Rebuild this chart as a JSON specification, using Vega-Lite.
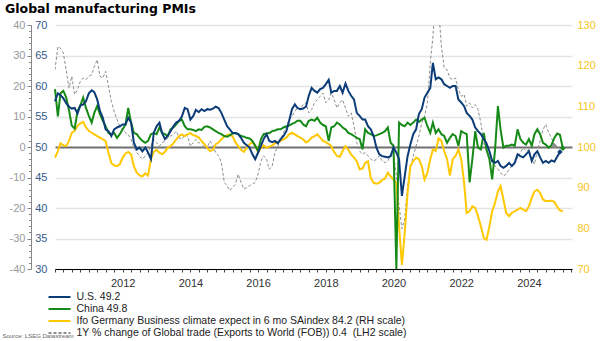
{
  "$schema": "https://vega.github.io/schema/vega-lite/v6.json",
  "width": 517,
  "height": 244,
  "autosize": "none",
  "padding": {"left": 55, "top": 25, "right": 30, "bottom": 72},
  "background": "white",
  "config": {
    "font": "Liberation Sans",
    "view": {"stroke": null}
  },
  "title": {"text": "Global manufacturing PMIs", "anchor": "start", "frame": "group", "dx": -50, "offset": 4, "font": "DejaVu Sans", "fontSize": 12.5, "fontWeight": "bold", "color": "#000"},
  "data": {"values": [
{"d":"2010-01-01","us":57.5,"cn":59.5,"ifo":97.4,"tr":25.3},
{"d":"2010-02-01","us":58.8,"cn":55.0,"ifo":99.0,"tr":32.9},
{"d":"2010-03-01","us":58.5,"cn":58.8,"ifo":100.9,"tr":32.4},
{"d":"2010-04-01","us":58.0,"cn":59.2,"ifo":100.4,"tr":30.8},
{"d":"2010-05-01","us":57.2,"cn":58.2,"ifo":100.2,"tr":25.3},
{"d":"2010-06-01","us":56.6,"cn":56.0,"ifo":101.5,"tr":19.3},
{"d":"2010-07-01","us":56.3,"cn":53.5,"ifo":103.5,"tr":23.2},
{"d":"2010-08-01","us":56.4,"cn":53.0,"ifo":104.0,"tr":17.2},
{"d":"2010-09-01","us":55.5,"cn":55.9,"ifo":105.2,"tr":18.8},
{"d":"2010-10-01","us":56.8,"cn":56.8,"ifo":105.8,"tr":21.5},
{"d":"2010-11-01","us":57.0,"cn":58.1,"ifo":106.2,"tr":22.6},
{"d":"2010-12-01","us":57.5,"cn":56.4,"ifo":104.8,"tr":22.1},
{"d":"2011-01-01","us":58.8,"cn":55.1,"ifo":104.0,"tr":23.2},
{"d":"2011-02-01","us":59.3,"cn":54.0,"ifo":103.5,"tr":23.7},
{"d":"2011-03-01","us":59.0,"cn":55.6,"ifo":103.1,"tr":26.4},
{"d":"2011-04-01","us":57.8,"cn":56.7,"ifo":102.7,"tr":28.6},
{"d":"2011-05-01","us":55.9,"cn":55.4,"ifo":102.3,"tr":23.2},
{"d":"2011-06-01","us":54.8,"cn":54.3,"ifo":101.9,"tr":22.6},
{"d":"2011-07-01","us":52.9,"cn":53.4,"ifo":101.5,"tr":24.8},
{"d":"2011-08-01","us":52.6,"cn":52.3,"ifo":98.6,"tr":19.9},
{"d":"2011-09-01","us":51.8,"cn":52.1,"ifo":96.0,"tr":15.0},
{"d":"2011-10-01","us":52.9,"cn":52.3,"ifo":95.5,"tr":11.7},
{"d":"2011-11-01","us":53.2,"cn":51.5,"ifo":95.3,"tr":9.0},
{"d":"2011-12-01","us":53.4,"cn":52.1,"ifo":95.7,"tr":6.8},
{"d":"2012-01-01","us":53.7,"cn":52.9,"ifo":97.4,"tr":5.8},
{"d":"2012-02-01","us":53.7,"cn":53.7,"ifo":98.4,"tr":4.7},
{"d":"2012-03-01","us":54.8,"cn":56.4,"ifo":98.8,"tr":4.1},
{"d":"2012-04-01","us":54.0,"cn":54.0,"ifo":98.2,"tr":2.5},
{"d":"2012-05-01","us":50.7,"cn":52.3,"ifo":95.3,"tr":-0.2},
{"d":"2012-06-01","us":49.6,"cn":52.1,"ifo":93.7,"tr":-1.8},
{"d":"2012-07-01","us":49.9,"cn":51.5,"ifo":93.0,"tr":-2.9},
{"d":"2012-08-01","us":49.3,"cn":51.0,"ifo":92.8,"tr":-4.0},
{"d":"2012-09-01","us":49.9,"cn":50.7,"ifo":93.5,"tr":-2.9},
{"d":"2012-10-01","us":49.1,"cn":51.0,"ifo":93.0,"tr":-1.8},
{"d":"2012-11-01","us":48.0,"cn":52.1,"ifo":97.0,"tr":0.3},
{"d":"2012-12-01","us":52.3,"cn":52.3,"ifo":98.8,"tr":2.5},
{"d":"2013-01-01","us":53.4,"cn":52.1,"ifo":99.3,"tr":1.4},
{"d":"2013-02-01","us":54.0,"cn":53.2,"ifo":98.6,"tr":0.3},
{"d":"2013-03-01","us":52.3,"cn":52.3,"ifo":98.2,"tr":1.4},
{"d":"2013-04-01","us":51.3,"cn":52.1,"ifo":98.8,"tr":2.0},
{"d":"2013-05-01","us":51.8,"cn":51.8,"ifo":99.8,"tr":3.0},
{"d":"2013-06-01","us":52.6,"cn":52.9,"ifo":100.2,"tr":3.6},
{"d":"2013-07-01","us":53.4,"cn":53.2,"ifo":100.9,"tr":4.1},
{"d":"2013-08-01","us":54.0,"cn":53.7,"ifo":101.9,"tr":5.2},
{"d":"2013-09-01","us":54.3,"cn":54.3,"ifo":102.7,"tr":3.0},
{"d":"2013-10-01","us":55.0,"cn":54.5,"ifo":103.1,"tr":2.5},
{"d":"2013-11-01","us":56.4,"cn":53.4,"ifo":102.7,"tr":4.1},
{"d":"2013-12-01","us":56.2,"cn":52.9,"ifo":103.1,"tr":3.6},
{"d":"2014-01-01","us":54.5,"cn":52.9,"ifo":103.4,"tr":0.3},
{"d":"2014-02-01","us":55.1,"cn":52.8,"ifo":102.9,"tr":1.4},
{"d":"2014-03-01","us":56.1,"cn":52.6,"ifo":102.7,"tr":2.5},
{"d":"2014-04-01","us":55.7,"cn":52.9,"ifo":102.3,"tr":1.2},
{"d":"2014-05-01","us":56.2,"cn":52.8,"ifo":101.5,"tr":2.0},
{"d":"2014-06-01","us":55.9,"cn":53.3,"ifo":100.7,"tr":-0.8},
{"d":"2014-07-01","us":56.2,"cn":53.4,"ifo":99.8,"tr":-0.2},
{"d":"2014-08-01","us":56.1,"cn":53.2,"ifo":99.0,"tr":2.0},
{"d":"2014-09-01","us":56.3,"cn":52.9,"ifo":99.3,"tr":0.5},
{"d":"2014-10-01","us":56.6,"cn":52.6,"ifo":100.7,"tr":-1.8},
{"d":"2014-11-01","us":56.4,"cn":52.3,"ifo":101.1,"tr":-2.9},
{"d":"2014-12-01","us":55.6,"cn":52.1,"ifo":101.9,"tr":-5.1},
{"d":"2015-01-01","us":54.5,"cn":51.8,"ifo":102.6,"tr":-11.6},
{"d":"2015-02-01","us":53.4,"cn":51.7,"ifo":102.9,"tr":-12.7},
{"d":"2015-03-01","us":52.9,"cn":51.9,"ifo":103.1,"tr":-14.3},
{"d":"2015-04-01","us":52.3,"cn":52.2,"ifo":102.6,"tr":-13.3},
{"d":"2015-05-01","us":52.3,"cn":52.3,"ifo":101.2,"tr":-12.2},
{"d":"2015-06-01","us":52.1,"cn":52.1,"ifo":100.2,"tr":-8.9},
{"d":"2015-07-01","us":51.5,"cn":51.8,"ifo":99.3,"tr":-11.6},
{"d":"2015-08-01","us":50.7,"cn":51.7,"ifo":98.8,"tr":-13.8},
{"d":"2015-09-01","us":50.3,"cn":51.5,"ifo":99.8,"tr":-13.3},
{"d":"2015-10-01","us":49.9,"cn":51.4,"ifo":100.7,"tr":-12.7},
{"d":"2015-11-01","us":48.8,"cn":51.0,"ifo":101.2,"tr":-12.2},
{"d":"2015-12-01","us":48.0,"cn":50.2,"ifo":100.4,"tr":-11.6},
{"d":"2016-01-01","us":49.1,"cn":49.3,"ifo":98.8,"tr":-8.9},
{"d":"2016-02-01","us":50.2,"cn":51.3,"ifo":99.8,"tr":-4.6},
{"d":"2016-03-01","us":51.3,"cn":52.1,"ifo":100.4,"tr":-2.9},
{"d":"2016-04-01","us":52.1,"cn":52.2,"ifo":99.8,"tr":-4.0},
{"d":"2016-05-01","us":51.0,"cn":52.3,"ifo":100.1,"tr":-7.3},
{"d":"2016-06-01","us":50.8,"cn":52.6,"ifo":100.4,"tr":-6.2},
{"d":"2016-07-01","us":51.0,"cn":52.7,"ifo":100.9,"tr":-1.8},
{"d":"2016-08-01","us":50.6,"cn":52.9,"ifo":101.2,"tr":0.3},
{"d":"2016-09-01","us":51.3,"cn":52.9,"ifo":101.5,"tr":2.5},
{"d":"2016-10-01","us":51.8,"cn":53.2,"ifo":101.9,"tr":4.7},
{"d":"2016-11-01","us":52.6,"cn":53.4,"ifo":102.3,"tr":6.8},
{"d":"2016-12-01","us":54.3,"cn":53.5,"ifo":103.1,"tr":9.0},
{"d":"2017-01-01","us":56.2,"cn":53.8,"ifo":103.5,"tr":10.1},
{"d":"2017-02-01","us":57.0,"cn":54.0,"ifo":103.1,"tr":11.7},
{"d":"2017-03-01","us":56.4,"cn":54.3,"ifo":102.7,"tr":12.8},
{"d":"2017-04-01","us":56.2,"cn":54.3,"ifo":102.3,"tr":12.3},
{"d":"2017-05-01","us":56.3,"cn":53.7,"ifo":101.9,"tr":13.9},
{"d":"2017-06-01","us":56.6,"cn":53.4,"ifo":101.1,"tr":14.5},
{"d":"2017-07-01","us":58.4,"cn":54.3,"ifo":101.5,"tr":11.2},
{"d":"2017-08-01","us":59.7,"cn":54.5,"ifo":102.3,"tr":12.3},
{"d":"2017-09-01","us":59.2,"cn":54.3,"ifo":102.7,"tr":14.5},
{"d":"2017-10-01","us":58.9,"cn":54.8,"ifo":103.1,"tr":15.5},
{"d":"2017-11-01","us":59.5,"cn":54.0,"ifo":102.3,"tr":16.6},
{"d":"2017-12-01","us":59.7,"cn":53.6,"ifo":101.5,"tr":17.7},
{"d":"2018-01-01","us":60.3,"cn":53.4,"ifo":101.2,"tr":14.5},
{"d":"2018-02-01","us":61.0,"cn":51.0,"ifo":100.7,"tr":15.5},
{"d":"2018-03-01","us":58.9,"cn":53.2,"ifo":100.2,"tr":17.7},
{"d":"2018-04-01","us":59.2,"cn":53.4,"ifo":98.8,"tr":15.5},
{"d":"2018-05-01","us":59.2,"cn":54.0,"ifo":97.8,"tr":12.8},
{"d":"2018-06-01","us":60.0,"cn":53.7,"ifo":97.6,"tr":14.5},
{"d":"2018-07-01","us":58.9,"cn":53.2,"ifo":99.0,"tr":15.5},
{"d":"2018-08-01","us":60.4,"cn":52.9,"ifo":100.2,"tr":12.8},
{"d":"2018-09-01","us":59.2,"cn":52.3,"ifo":99.3,"tr":10.1},
{"d":"2018-10-01","us":58.4,"cn":52.1,"ifo":98.2,"tr":11.2},
{"d":"2018-11-01","us":57.8,"cn":51.8,"ifo":97.4,"tr":6.8},
{"d":"2018-12-01","us":55.6,"cn":51.5,"ifo":96.5,"tr":1.4},
{"d":"2019-01-01","us":55.1,"cn":51.3,"ifo":94.5,"tr":-1.3},
{"d":"2019-02-01","us":54.5,"cn":49.6,"ifo":94.7,"tr":-2.4},
{"d":"2019-03-01","us":54.5,"cn":52.9,"ifo":96.1,"tr":-1.8},
{"d":"2019-04-01","us":53.4,"cn":52.3,"ifo":96.5,"tr":-2.9},
{"d":"2019-05-01","us":52.9,"cn":52.1,"ifo":92.4,"tr":-4.0},
{"d":"2019-06-01","us":51.8,"cn":51.8,"ifo":91.2,"tr":-4.6},
{"d":"2019-07-01","us":49.9,"cn":51.9,"ifo":91.0,"tr":-4.0},
{"d":"2019-08-01","us":48.8,"cn":52.1,"ifo":91.2,"tr":-2.9},
{"d":"2019-09-01","us":48.5,"cn":52.3,"ifo":91.9,"tr":-4.6},
{"d":"2019-10-01","us":48.4,"cn":52.6,"ifo":92.2,"tr":-5.1},
{"d":"2019-11-01","us":48.3,"cn":53.2,"ifo":93.7,"tr":-4.6},
{"d":"2019-12-01","us":48.5,"cn":50.7,"ifo":92.8,"tr":-2.9},
{"d":"2020-01-01","us":49.9,"cn":50.2,"ifo":92.0,"tr":-1.8},
{"d":"2020-02-01","us":49.1,"cn":30.0,"ifo":91.2,"tr":-9.5},
{"d":"2020-03-01","us":48.0,"cn":54.0,"ifo":80.5,"tr":-19.2},
{"d":"2020-04-01","us":42.0,"cn":53.6,"ifo":71.0,"tr":-26.8},
{"d":"2020-05-01","us":45.2,"cn":53.4,"ifo":78.8,"tr":-23.6},
{"d":"2020-06-01","us":48.5,"cn":54.0,"ifo":88.7,"tr":-12.7},
{"d":"2020-07-01","us":50.4,"cn":53.6,"ifo":95.3,"tr":-7.3},
{"d":"2020-08-01","us":52.1,"cn":54.0,"ifo":96.5,"tr":-2.9},
{"d":"2020-09-01","us":52.9,"cn":54.5,"ifo":97.4,"tr":0.3},
{"d":"2020-10-01","us":55.4,"cn":54.1,"ifo":97.0,"tr":3.6},
{"d":"2020-11-01","us":56.2,"cn":54.5,"ifo":95.3,"tr":7.9},
{"d":"2020-12-01","us":58.1,"cn":54.8,"ifo":92.0,"tr":10.1},
{"d":"2021-01-01","us":58.9,"cn":53.4,"ifo":93.7,"tr":14.5},
{"d":"2021-02-01","us":59.7,"cn":52.3,"ifo":97.0,"tr":27.5},
{"d":"2021-03-01","us":63.8,"cn":54.0,"ifo":99.4,"tr":36.0},
{"d":"2021-04-01","us":61.1,"cn":52.3,"ifo":99.0,"tr":50.0},
{"d":"2021-05-01","us":61.4,"cn":52.9,"ifo":102.1,"tr":46.0},
{"d":"2021-06-01","us":61.1,"cn":52.1,"ifo":101.5,"tr":33.0},
{"d":"2021-07-01","us":60.3,"cn":51.8,"ifo":99.0,"tr":26.0},
{"d":"2021-08-01","us":60.0,"cn":50.7,"ifo":97.0,"tr":25.3},
{"d":"2021-09-01","us":59.7,"cn":51.5,"ifo":93.0,"tr":22.6},
{"d":"2021-10-01","us":60.0,"cn":52.1,"ifo":97.0,"tr":22.1},
{"d":"2021-11-01","us":60.0,"cn":51.8,"ifo":97.8,"tr":22.6},
{"d":"2021-12-01","us":57.8,"cn":50.2,"ifo":99.4,"tr":18.8},
{"d":"2022-01-01","us":57.3,"cn":52.6,"ifo":97.0,"tr":16.6},
{"d":"2022-02-01","us":56.7,"cn":52.3,"ifo":91.2,"tr":17.2},
{"d":"2022-03-01","us":55.6,"cn":52.1,"ifo":83.8,"tr":13.4},
{"d":"2022-04-01","us":55.1,"cn":44.2,"ifo":84.2,"tr":14.5},
{"d":"2022-05-01","us":54.5,"cn":48.0,"ifo":85.4,"tr":12.8},
{"d":"2022-06-01","us":53.2,"cn":52.6,"ifo":85.0,"tr":13.9},
{"d":"2022-07-01","us":52.6,"cn":49.9,"ifo":83.0,"tr":12.3},
{"d":"2022-08-01","us":52.1,"cn":49.6,"ifo":80.5,"tr":7.9},
{"d":"2022-09-01","us":51.3,"cn":52.3,"ifo":77.6,"tr":1.4},
{"d":"2022-10-01","us":50.6,"cn":49.6,"ifo":77.2,"tr":-1.3},
{"d":"2022-11-01","us":49.3,"cn":48.0,"ifo":80.5,"tr":-3.5},
{"d":"2022-12-01","us":47.7,"cn":44.7,"ifo":84.2,"tr":-5.1},
{"d":"2023-01-01","us":47.4,"cn":49.6,"ifo":86.3,"tr":-6.2},
{"d":"2023-02-01","us":47.7,"cn":56.7,"ifo":89.1,"tr":-7.3},
{"d":"2023-03-01","us":46.9,"cn":52.9,"ifo":90.4,"tr":-8.4},
{"d":"2023-04-01","us":46.6,"cn":49.9,"ifo":87.1,"tr":-9.5},
{"d":"2023-05-01","us":46.9,"cn":50.2,"ifo":83.8,"tr":-8.9},
{"d":"2023-06-01","us":47.4,"cn":50.2,"ifo":83.0,"tr":-7.3},
{"d":"2023-07-01","us":46.9,"cn":50.4,"ifo":83.8,"tr":-6.2},
{"d":"2023-08-01","us":47.4,"cn":50.2,"ifo":84.2,"tr":-5.1},
{"d":"2023-09-01","us":48.8,"cn":52.9,"ifo":84.6,"tr":-3.5},
{"d":"2023-10-01","us":48.5,"cn":51.3,"ifo":85.0,"tr":-1.8},
{"d":"2023-11-01","us":48.3,"cn":50.7,"ifo":84.6,"tr":-0.2},
{"d":"2023-12-01","us":48.8,"cn":50.4,"ifo":84.2,"tr":-1.3},
{"d":"2024-01-01","us":49.3,"cn":51.3,"ifo":85.4,"tr":-0.8},
{"d":"2024-02-01","us":47.7,"cn":50.2,"ifo":87.5,"tr":-4.0},
{"d":"2024-03-01","us":48.8,"cn":52.1,"ifo":89.1,"tr":-5.7},
{"d":"2024-04-01","us":49.3,"cn":52.9,"ifo":89.5,"tr":-1.3},
{"d":"2024-05-01","us":48.3,"cn":52.1,"ifo":88.7,"tr":2.0},
{"d":"2024-06-01","us":47.4,"cn":50.7,"ifo":87.1,"tr":5.8},
{"d":"2024-07-01","us":47.7,"cn":50.4,"ifo":86.7,"tr":7.4},
{"d":"2024-08-01","us":47.4,"cn":49.9,"ifo":86.7,"tr":4.7},
{"d":"2024-09-01","us":47.8,"cn":50.3,"ifo":86.8,"tr":3.0},
{"d":"2024-10-01","us":47.6,"cn":51.5,"ifo":86.5,"tr":0.4},
{"d":"2024-11-01","us":48.4,"cn":52.2,"ifo":85.3},
{"d":"2024-12-01","us":49.2,"cn":52.0,"ifo":84.4},
{"d":"2025-01-01","cn":49.8,"ifo":84.2}
  ]},
  "encoding": {
    "x": {
      "field": "d", "type": "temporal",
      "scale": {"type": "utc", "domain": ["2010-01-01", "2025-04-10"]},
      "axis": {
        "orient": "bottom",
        "tickCount": {"interval": "month", "step": 3},
        "labelExpr": "utcmonth(datum.value) === 0 && utcyear(datum.value) % 2 === 0 && utcyear(datum.value) >= 2012 ? utcFormat(datum.value, '%Y') : ''",
        "labelOverlap": false, "labelFlush": false, "grid": false,
        "domainColor": "#000000", "domainWidth": 1,
        "tickColor": "#444444", "tickSize": 3,
        "labelFontSize": 11, "labelColor": "#333333", "labelPadding": 5,
        "title": "Source: LSEG Datastream", "titleX": -53, "titleY": 66,
        "titleAlign": "left", "titleAnchor": "start", "titleBaseline": "middle",
        "titleFontSize": 6, "titleFontWeight": "normal", "titleColor": "#666666"
      }
    }
  },
  "layer": [
    {
      "mark": {"type": "line", "strokeWidth": 1, "clip": true},
      "encoding": {
        "y": {"field": "tr", "type": "quantitative", "scale": {"domain": [-40, 40]},
          "axis": {"orient": "left", "offset": 24, "title": null, "grid": false,
            "values": [-40,-38,-36,-34,-32,-30,-28,-26,-24,-22,-20,-18,-16,-14,-12,-10,-8,-6,-4,-2,0,2,4,6,8,10,12,14,16,18,20,22,24,26,28,30,32,34,36,38,40],
            "labelExpr": "datum.value % 10 === 0 ? '' + datum.value : ''",
            "labelOverlap": false,
            "tickSize": {"condition": {"test": "datum.value % 10 === 0", "value": 4}, "value": 2.5},
            "domainColor": "#888888", "tickColor": "#888888", "labelColor": "#9a9a9a",
            "labelFontSize": 11, "labelPadding": 2}},
        "color": {"datum": "1Y % change of Global trade (Exports to World (FOB)) 0.4\u00a0 (LH2 scale)"},
        "strokeDash": {"datum": "1Y % change of Global trade (Exports to World (FOB)) 0.4\u00a0 (LH2 scale)",
          "scale": {"domain": ["U.S. 49.2", "China 49.8", "Ifo Germany Business climate expect in 6 mo SAindex 84.2 (RH scale)", "1Y % change of Global trade (Exports to World (FOB)) 0.4\u00a0 (LH2 scale)"],
            "range": [[1, 0], [1, 0], [1, 0], [3, 2]]},
          "legend": {"title": null}}
      }
    },
    {
      "mark": {"type": "line", "strokeWidth": 2},
      "encoding": {
        "y": {"field": "ifo", "type": "quantitative", "scale": {"domain": [70, 130]},
          "axis": {"orient": "right", "title": null, "grid": false, "domain": false, "ticks": false,
            "values": [70, 80, 90, 100, 110, 120, 130], "labelColor": "#f5c518", "labelFontSize": 11, "labelPadding": 5}},
        "color": {"datum": "Ifo Germany Business climate expect in 6 mo SAindex 84.2 (RH scale)"}
      }
    },
    {
      "mark": {"type": "line", "strokeWidth": 2},
      "encoding": {
        "y": {"field": "cn", "type": "quantitative", "scale": {"domain": [30, 70]}, "axis": null},
        "color": {"datum": "China 49.8"}
      }
    },
    {
      "mark": {"type": "line", "strokeWidth": 2},
      "encoding": {
        "y": {"field": "us", "type": "quantitative", "scale": {"domain": [30, 70]},
          "axis": {"orient": "left", "title": null, "domain": false, "ticks": false,
            "values": [30, 35, 40, 45, 50, 55, 60, 65, 70],
            "labelColor": "#34598a", "labelFontSize": 11, "labelPadding": 8,
            "grid": true,
            "gridColor": {"condition": {"test": "datum.value === 50", "value": "#707070"}, "value": "#e4e4e4"},
            "gridWidth": {"condition": {"test": "datum.value === 50", "value": 2}, "value": 1.5}}},
        "color": {"datum": "U.S. 49.2",
          "scale": {"domain": ["U.S. 49.2", "China 49.8", "Ifo Germany Business climate expect in 6 mo SAindex 84.2 (RH scale)", "1Y % change of Global trade (Exports to World (FOB)) 0.4\u00a0 (LH2 scale)"],
            "range": ["#0c3c78", "#168a16", "#ffc800", "#8c8c8c"]},
          "legend": {"title": null, "orient": "none", "legendX": -2, "legendY": 265.5, "padding": 0,
            "symbolType": "M-2,0H2", "symbolSize": 121, "symbolStrokeWidth": 2,
            "labelFontSize": 10.5, "labelColor": "#222222", "labelOffset": 10.5, "rowPadding": 0, "labelLimit": 0}}
      }
    },
    {
      "transform": [{"filter": "utcyear(datum.d) === 2024 && utcmonth(datum.d) === 9"}],
      "mark": {"type": "point", "shape": "diamond", "filled": true, "size": 30, "color": "#8c8c8c", "opacity": 1},
      "encoding": {"y": {"field": "tr", "type": "quantitative", "scale": {"domain": [-40, 40]}, "axis": null}}
    },
    {
      "transform": [{"filter": "utcyear(datum.d) === 2024 && utcmonth(datum.d) === 11"}],
      "mark": {"type": "point", "shape": "diamond", "filled": true, "size": 30, "color": "#0c3c78", "opacity": 1},
      "encoding": {"y": {"field": "us", "type": "quantitative", "scale": {"domain": [30, 70]}, "axis": null}}
    },
    {
      "transform": [{"filter": "utcyear(datum.d) === 2025 && utcmonth(datum.d) === 0"}],
      "mark": {"type": "point", "shape": "diamond", "filled": true, "size": 30, "color": "#168a16", "opacity": 1},
      "encoding": {"y": {"field": "cn", "type": "quantitative", "scale": {"domain": [30, 70]}, "axis": null}}
    }
  ],
  "resolve": {"scale": {"y": "independent"}, "axis": {"y": "independent"}}
}
